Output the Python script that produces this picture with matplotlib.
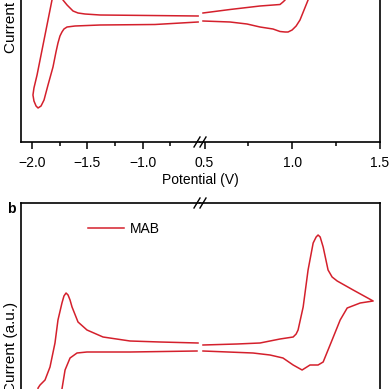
import numpy as np
import matplotlib
matplotlib.use('Agg')
import matplotlib.pyplot as plt

plt.rcParams['font.family'] = ['Liberation Sans', 'DejaVu Sans']
plt.rcParams['font.size'] = 10

red = '#d4202c'

# panel a, negative window (potential V, current a.u.)
a_left_v = [-0.50, -0.935, -1.386, -1.522, -1.585, -1.630, -1.657, -1.684, -1.721, -1.739,
            -1.775, -1.802, -1.820, -1.865, -1.910, -1.955, -1.983, -1.992, -1.983, -1.964,
            -1.946, -1.919, -1.892, -1.856, -1.811, -1.784, -1.766, -1.748, -1.730, -1.712,
            -1.684, -1.612, -1.386, -0.890, -0.50]
a_left_i = [1.26, 1.265, 1.27, 1.28, 1.29, 1.31, 1.34, 1.37, 1.42, 1.72,
            2.02, 1.72, 1.42, 1.17, 0.92, 0.67, 0.54, 0.47, 0.41, 0.36,
            0.34, 0.36, 0.42, 0.57, 0.75, 0.90, 0.99, 1.06, 1.10, 1.13,
            1.15, 1.16, 1.17, 1.175, 1.20]

# panel a, positive window
a_right_v = [0.491, 0.645, 0.816, 0.930, 0.947, 0.959, 0.976, 0.999, 1.044, 1.130,
             1.101, 1.090, 1.067, 1.044, 1.022, 0.999, 0.976, 0.959, 0.930, 0.890,
             0.816, 0.742, 0.645, 0.491]
a_right_i = [1.29, 1.325, 1.36, 1.375, 1.40, 1.42, 1.82, 2.22, 2.32, 1.82,
             1.52, 1.42, 1.32, 1.22, 1.16, 1.12, 1.10, 1.10, 1.105, 1.13,
             1.15, 1.18, 1.20, 1.21]

# panel b (MAB), negative window
b_left_v = [-0.501, -0.844, -1.115, -1.359, -1.504, -1.585, -1.639, -1.657, -1.675, -1.693,
            -1.712, -1.730, -1.766, -1.793, -1.838, -1.883, -1.928, -1.946, -1.974, -1.983,
            -1.955, -1.883, -1.793, -1.748, -1.730, -1.702, -1.657, -1.594, -1.504, -1.115,
            -0.510]
b_left_i = [1.48, 1.49, 1.50, 1.54, 1.61, 1.69, 1.84, 1.91, 1.96, 1.98,
            1.95, 1.88, 1.71, 1.48, 1.24, 1.11, 1.06, 1.03, 0.71, 0.41,
            0.16, 0.11, 0.41, 0.81, 1.02, 1.21, 1.33, 1.38, 1.39, 1.39,
            1.40]

# panel b (MAB), positive window
b_right_v = [0.491, 0.685, 0.816, 0.873, 0.930, 1.005, 1.022, 1.033, 1.062, 1.090,
             1.119, 1.136, 1.147, 1.159, 1.176, 1.204, 1.227, 1.256, 1.347, 1.461,
             1.387, 1.313, 1.273, 1.227, 1.176, 1.147, 1.101, 1.056, 1.005, 0.947,
             0.873, 0.776, 0.491]
b_right_i = [1.46, 1.47, 1.48, 1.50, 1.52, 1.54, 1.57, 1.61, 1.84, 2.21,
             2.48, 2.54, 2.56, 2.54, 2.44, 2.21, 2.14, 2.10, 2.01, 1.90,
             1.88, 1.83, 1.71, 1.51, 1.29, 1.26, 1.26, 1.21, 1.26, 1.33,
             1.36, 1.38, 1.40]

left_major = [-2.0, -1.5, -1.0]
left_minor = [-1.75, -1.25, -0.75]
right_major = [0.5, 1.0, 1.5]
right_minor = [0.75, 1.25]

W = 389.0
fig = plt.figure(figsize=(3.89, 3.89), dpi=100)


def pair(top_px, height_px, ymax, lv, li, rv, ri):
    bottom = 1 - (top_px + height_px) / W
    h = height_px / W
    axl = fig.add_axes([21 / W, bottom, 179 / W, h])
    axr = fig.add_axes([200 / W, bottom, 180 / W, h])
    axl.plot(lv, li, color=red, lw=1.1)
    axr.plot(rv, ri, color=red, lw=1.1)
    axl.set_xlim(-2.1, -0.483)
    axr.set_xlim(0.474, 1.5)
    axl.set_xticks(left_major)
    axl.set_xticks(left_minor, minor=True)
    axr.set_xticks(right_major)
    axr.set_xticks(right_minor, minor=True)
    for ax in (axl, axr):
        ax.set_ylim(0, ymax)
        ax.set_yticks([])
        for s in ax.spines.values():
            s.set_linewidth(1.2)
        ax.tick_params(axis='x', which='major', direction='out', length=5, width=1.1,
                       pad=5, labelsize=10)
        ax.tick_params(axis='x', which='minor', direction='out', length=3, width=1.1)
    axl.spines['right'].set_visible(False)
    axr.spines['left'].set_visible(False)
    axl.set_ylabel('Current (a.u.)', fontsize=11)
    axl.yaxis.set_label_coords(-0.018, 0.5)
    # break marks
    dx = 3 / 180
    dy = 5 / height_px
    for y0 in (0, 1):
        for xc in (-3 / 180, 3 / 180):
            axr.plot([xc - dx, xc + dx], [y0 - dy, y0 + dy], color='black', lw=1.0,
                     transform=axr.transAxes, clip_on=False)
    return axl, axr


axl_a, axr_a = pair(-128, 270, 2.7, a_left_v, a_left_i, a_right_v, a_right_i)
axl_b, axr_b = pair(203, 288, 2.88, b_left_v, b_left_i, b_right_v, b_right_i)

axl_b.lines[0].set_label('MAB')
axl_b.legend(loc='center left', bbox_to_anchor=((88 - 21) / 179, 1 - 26 / 288),
             frameon=False, borderpad=0, borderaxespad=0, handlelength=2.6,
             handletextpad=0.45, fontsize=10)

fig.text(200 / W, 1 - 180 / W, 'Potential (V)', ha='center', va='center', fontsize=10)
fig.text(11 / W, 1 - 209 / W, 'b', ha='center', va='center', fontsize=10, fontweight='bold')

fig.savefig('out.png', dpi=100)
